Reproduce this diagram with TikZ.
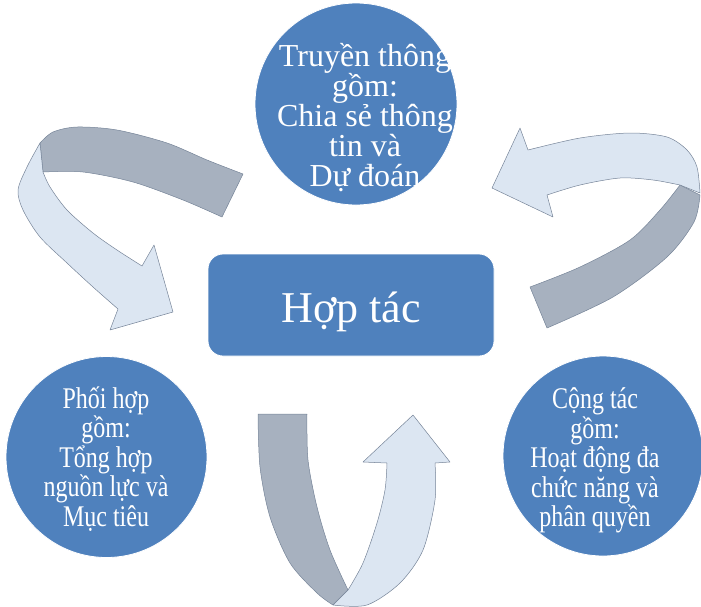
\documentclass[tikz,border=0pt]{standalone}
\usepackage{fontspec}
\setmainfont{Liberation Serif}
\newfontfamily\narrowserif{Liberation Serif}[FakeStretch=0.8]
\definecolor{nodeblue}{RGB}{79,129,189}
\definecolor{ribbonlight}{RGB}{220,230,242}
\definecolor{ribbondark}{RGB}{167,177,191}
\definecolor{ribbonedge}{RGB}{118,132,152}
% fixed first-line height and last-line depth keep the text blocks predictable
\newcommand{\capstrut}{\rule{0pt}{34pt}}
\newcommand{\descstrut}{\rule[-10pt]{0pt}{10pt}}
\newcommand{\tightlines}{\lineskiplimit=-100pt\relax\lineskip=0pt\relax}
\begin{document}
\begin{tikzpicture}[x=1pt,y=-1pt,
  bubble/.style={circle,fill=nodeblue,draw=white,line width=0.8pt,inner sep=0pt},
  hub/.style={rounded corners=15pt,fill=nodeblue,draw=white,line width=0.8pt,
    minimum width=286pt,minimum height=102pt,inner sep=0pt},
  bubbletext/.style={text=white,align=center,inner sep=0pt,
    font=\fontsize{32}{30}\selectfont\tightlines},
  smalltext/.style={text=white,align=center,inner sep=0pt,
    font=\narrowserif\fontsize{30}{29.5}\selectfont\tightlines},
  front/.style={fill=ribbonlight,draw=ribbonedge,line width=0.5pt,line join=round},
  back/.style={fill=ribbondark,draw=ribbonedge,line width=0.5pt,line join=round}]
\useasboundingbox (0,0) rectangle (701,606);

% curved ribbon arrow, upper left
\path[back] (40,143) -- plot[smooth] coordinates {(40,143) (53,132) (77,127) (117,130) (167,143) (207,160) (243,174)}
  -- (222,217) -- plot[smooth] coordinates {(222,217) (183,200) (133,182) (83,172) (43,172)} -- cycle;
\path[front] plot[smooth] coordinates {(40,143) (27,167) (18,190) (23,210) (40,237) (67,263) (93,287) (118,309)}
  -- (110,330) -- (173,312) -- (154,245) -- (142,266)
  -- plot[smooth] coordinates {(142,266) (117,250) (93,233) (67,210) (50,187) (43,172)} -- cycle;

% curved ribbon arrow, upper right
\path[back] plot[smooth] coordinates {(680,185) (660,210) (630,240) (580,267) (530,287)}
  -- (547,328) -- plot[smooth] coordinates {(547,328) (613,297) (667,257) (694,222) (700,195)} -- cycle;
\path[front] (492,188) -- (520,128) -- (528,150)
  -- plot[smooth] coordinates {(528,150) (580,138) (630,133) (667,137) (687,150) (697,167) (700,193)}
  -- (680,185) -- plot[smooth] coordinates {(680,185) (653,180) (620,178) (580,185) (547,195)}
  -- (553,217) -- cycle;

% curved ribbon arrow, bottom
\path[back] (258,414) -- (307,414)
  -- plot[smooth] coordinates {(307,414) (308,460) (317,507) (330,550) (348,590)}
  -- (333,605) -- plot[smooth] coordinates {(333,605) (317,593) (290,563) (270,517) (260,467) (258,414)} -- cycle;
\path[front] plot[smooth] coordinates {(333,605) (367,605) (400,583) (423,550) (435,500) (435,463)}
  -- (450,462) -- (413,415) -- (363,462) -- (387,463)
  -- plot[smooth] coordinates {(387,463) (385,490) (377,523) (363,563) (348,590)} -- cycle;

% nodes
\node[bubble,minimum size=202pt] (comm) at (356,104) {};
\node[bubble,minimum size=201pt] (coord) at (106.5,457) {};
\node[bubble,minimum size=200pt] (collab) at (603,456) {};
\node[hub] (hub) at (351,305) {};

\node[bubbletext] (commtext) at (365,114) {\capstrut Truyền thông\\gồm:\\Chia sẻ thông\\tin và\\Dự đoán\descstrut};
\node[smalltext] (coordtext) at (106,455) {\capstrut Phối hợp\\gồm:\\Tổng hợp\\nguồn lực và\\Mục tiêu\descstrut};
\node[smalltext] (collabtext) at (595,455.5) {\capstrut Cộng tác\\gồm:\\Hoạt động đa\\chức năng và\\phân quyền\descstrut};
\node[text=white,inner sep=0pt,anchor=base,font=\fontsize{44}{48}\selectfont] (hubtext) at (351,322) {Hợp tác};
\end{tikzpicture}
\end{document}
